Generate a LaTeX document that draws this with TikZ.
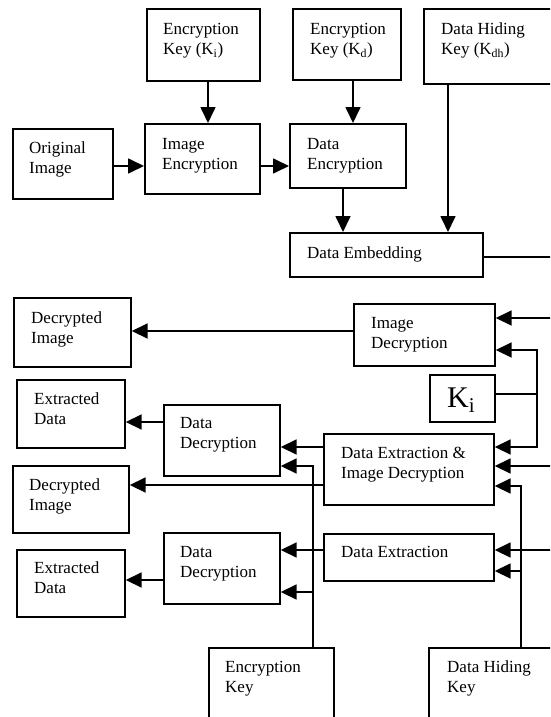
\documentclass[tikz,border=0pt]{standalone}
\usepackage{fontspec}
\setmainfont{Liberation Serif}
\usetikzlibrary{arrows.meta}
\tikzset{
  box/.style={draw, line width=1.7pt, anchor=north west, inner sep=0pt},
  txt/.style={anchor=base west, inner sep=0pt, align=left, font=\fontsize{17}{20.5}\selectfont},
  arr/.style={line width=1.7pt, -{Triangle[length=16pt,width=15pt]}},
  ln/.style={line width=1.7pt}
}
\begin{document}
\begin{tikzpicture}[x=1pt,y=-1pt]
\useasboundingbox (0,0) rectangle (550,717);
\fill[white] (0,0) rectangle (550,717);
\clip (0,0) rectangle (550,717);
% boxes
\node[box, minimum width=113pt, minimum height=72pt] (eki) at (146,8) {};
\node[box, minimum width=108pt, minimum height=71pt] (ekd) at (292,8) {};
\node[box, minimum width=160pt, minimum height=75pt] (dhk1) at (423,8) {};
\node[box, minimum width=100pt, minimum height=70pt] (orig) at (12,128) {};
\node[box, minimum width=115pt, minimum height=70pt] (ienc) at (144,123) {};
\node[box, minimum width=116pt, minimum height=64pt] (denc) at (289,123) {};
\node[box, minimum width=193pt, minimum height=44pt] (demb) at (289,232) {};
\node[box, minimum width=117pt, minimum height=69pt] (decimg1) at (13,297) {};
\node[box, minimum width=141pt, minimum height=62pt] (idec) at (353,303) {};
\node[box, minimum width=65pt, minimum height=47pt] (ki) at (429,374) {};
\node[box, minimum width=108pt, minimum height=68pt] (exd1) at (16,379) {};
\node[box, minimum width=116pt, minimum height=71pt] (dd1) at (163,404) {};
\node[box, minimum width=170pt, minimum height=71pt] (deid) at (323,433) {};
\node[box, minimum width=116pt, minimum height=67pt] (decimg2) at (12,465) {};
\node[box, minimum width=170pt, minimum height=47pt] (dext) at (323,533) {};
\node[box, minimum width=116pt, minimum height=71pt] (dd2) at (163,532) {};
\node[box, minimum width=108pt, minimum height=67pt] (exd2) at (16,549) {};
\node[box, minimum width=125pt, minimum height=100pt] (ek) at (208,647) {};
\node[box, minimum width=155pt, minimum height=100pt] (dhk2) at (428,647) {};
% texts (base = baseline of the last line)
\node[txt] (t-eki) at (163,54.5) {Encryption\\Key (K\textsubscript{i})};
\node[txt] (t-ekd) at (310,54.5) {Encryption\\Key (K\textsubscript{d})};
\node[txt] (t-dhk1) at (441,54.5) {Data Hiding\\Key (K\textsubscript{dh})};
\node[txt] (t-orig) at (29,173.5) {Original\\Image};
\node[txt] (t-ienc) at (162,169.5) {Image\\Encryption};
\node[txt] (t-denc) at (307,169.5) {Data\\Encryption};
\node[txt] (t-demb) at (307,258) {Data Embedding};
\node[txt] (t-decimg1) at (31,343.5) {Decrypted\\Image};
\node[txt] (t-idec) at (371,348.5) {Image\\Decryption};
\node[txt, font=\fontsize{30}{36}\selectfont] (t-ki) at (447,407) {K\textsubscript{i}};
\node[txt] (t-exd1) at (34,424.5) {Extracted\\Data};
\node[txt] (t-dd1) at (180,448.5) {Data\\Decryption};
\node[txt] (t-deid) at (341,478.5) {Data Extraction \&\\Image Decryption};
\node[txt] (t-decimg2) at (29,510.5) {Decrypted\\Image};
\node[txt] (t-dext) at (341,557) {Data Extraction};
\node[txt] (t-dd2) at (180,577.5) {Data\\Decryption};
\node[txt] (t-exd2) at (34,593.5) {Extracted\\Data};
\node[txt] (t-ek) at (225,692.5) {Encryption\\Key};
\node[txt] (t-dhk2) at (447,692.5) {Data Hiding\\Key};
% coordinates
\coordinate (eR) at (560,257);
\coordinate (r1) at (560,318);
\coordinate (kj) at (537,394);
\coordinate (r2) at (560,466);
\coordinate (r3) at (560,550);
\coordinate (ekb) at (313,592);
\coordinate (hb) at (521,571);
% connectors (encryption side)
\draw[arr] (orig.east |- 0,166) -- (ienc.west |- 0,166);
\draw[arr] (eki.south -| 208,0) -- (ienc.north -| 208,0);
\draw[arr] (ienc.east |- 0,166) -- (denc.west |- 0,166);
\draw[arr] (ekd.south -| 353,0) -- (denc.north -| 353,0);
\draw[arr] (denc.south -| 343,0) -- (demb.north -| 343,0);
\draw[arr] (dhk1.south -| 448,0) -- (demb.north -| 448,0);
\draw[ln] (demb.east |- eR) -- (eR);
% decryption side
\draw[arr] (r1) -- (r1 -| idec.east);
\draw[arr] (idec.west |- 0,331) -- (decimg1.east |- 0,331);
\draw[ln] (ki.east |- kj) -- (kj);
\draw[arr] (kj) |- (idec.east |- 0,350);
\draw[arr] (kj) |- (deid.east |- 0,447);
\draw[arr] (dd1.west |- 0,422) -- (exd1.east |- 0,422);
\draw[arr] (deid.west |- 0,447) -- (dd1.east |- 0,447);
\draw[arr] (ek.north -| 313,0) |- (dd1.east |- 0,466);
\draw[arr] (ekb) -- (dd2.east |- ekb);
\draw[arr] (deid.west |- 0,485) -- (decimg2.east |- 0,485);
\draw[arr] (r2) -- (r2 -| deid.east);
\draw[arr] (dhk2.north -| 521,0) |- (deid.east |- 0,486);
\draw[arr] (hb) -- (hb -| dext.east);
\draw[arr] (r3) -- (r3 -| dext.east);
\draw[arr] (dext.west |- 0,550) -- (dd2.east |- 0,550);
\draw[arr] (dd2.west |- 0,580) -- (exd2.east |- 0,580);
\end{tikzpicture}
\end{document}
